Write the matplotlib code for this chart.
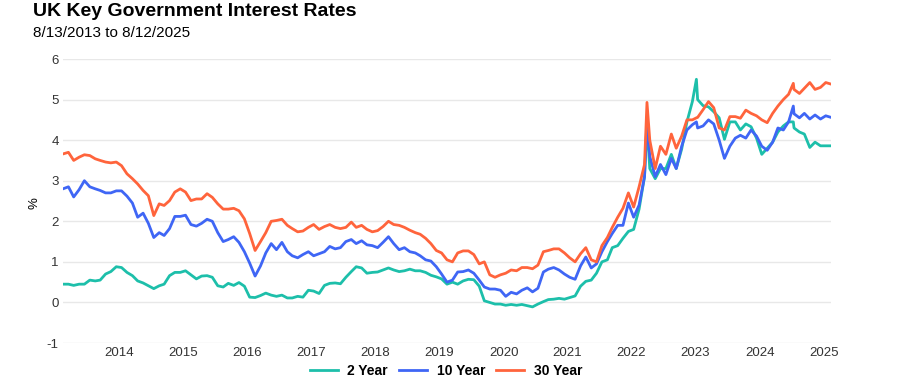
import numpy as np
import pandas as pd
import matplotlib
matplotlib.use("Agg")
import matplotlib.pyplot as plt
from matplotlib.lines import Line2D

plt.rcParams['font.family'] = ['Liberation Sans', 'DejaVu Sans']
plt.rcParams['axes.unicode_minus'] = False

# monthly readings, 13th of each month, Aug 2013 .. Aug 2025
dates = pd.date_range("2013-08-13", periods=145, freq=pd.DateOffset(months=1))

y2 = [0.45, 0.45, 0.42, 0.45, 0.45, 0.55, 0.53, 0.55, 0.70, 0.76,
      0.88, 0.86, 0.74, 0.66, 0.53, 0.48, 0.41, 0.34, 0.41, 0.45,
      0.66, 0.74, 0.74, 0.78, 0.68, 0.58, 0.65, 0.66, 0.62, 0.41,
      0.38, 0.47, 0.42, 0.49, 0.40, 0.13, 0.12, 0.17, 0.23, 0.18,
      0.15, 0.18, 0.11, 0.11, 0.15, 0.13, 0.30, 0.28, 0.22, 0.42,
      0.47, 0.48, 0.46, 0.62, 0.76, 0.88, 0.85, 0.72, 0.74, 0.75,
      0.80, 0.85, 0.80, 0.76, 0.78, 0.82, 0.78, 0.78, 0.74, 0.67,
      0.63, 0.58, 0.45, 0.50, 0.45, 0.53, 0.57, 0.56, 0.40, 0.04,
      0.00, -0.04, -0.04, -0.07, -0.05, -0.07, -0.05, -0.08, -0.11, -0.04,
      0.02, 0.07, 0.08, 0.10, 0.08, 0.12, 0.16, 0.40, 0.52, 0.55,
      0.72, 1.00, 1.05, 1.35, 1.40, 1.58, 1.75, 1.80, 2.30, 3.10,
      3.30, 3.05, 3.30, 3.30, 3.65, 3.30, 3.78, 4.45, 4.95, 5.00,
      4.85, 4.82, 4.70, 4.55, 4.02, 4.45, 4.45, 4.25, 4.40, 4.33,
      4.05, 3.65, 3.80, 3.95, 4.20, 4.35, 4.45, 4.30, 4.20, 4.15,
      3.82, 3.95, 3.86, 3.86, 3.86]

y10 = [2.80, 2.85, 2.60, 2.78, 3.00, 2.85, 2.80, 2.76, 2.70, 2.70,
       2.75, 2.75, 2.62, 2.45, 2.10, 2.20, 1.95, 1.60, 1.72, 1.65,
       1.82, 2.12, 2.12, 2.15, 1.92, 1.88, 1.95, 2.05, 2.00, 1.72,
       1.50, 1.55, 1.62, 1.48, 1.25, 0.97, 0.65, 0.90, 1.22, 1.45,
       1.30, 1.48, 1.25, 1.15, 1.10, 1.18, 1.25, 1.15, 1.20, 1.25,
       1.38, 1.32, 1.35, 1.50, 1.55, 1.45, 1.52, 1.42, 1.40, 1.35,
       1.48, 1.62, 1.45, 1.30, 1.35, 1.25, 1.22, 1.15, 1.05, 1.02,
       0.88, 0.70, 0.50, 0.55, 0.75, 0.76, 0.80, 0.72, 0.55, 0.38,
       0.33, 0.33, 0.30, 0.15, 0.25, 0.21, 0.30, 0.36, 0.26, 0.35,
       0.75, 0.82, 0.86, 0.80, 0.70, 0.62, 0.57, 0.90, 1.12, 0.85,
       0.95, 1.25, 1.50, 1.70, 1.90, 1.90, 2.45, 2.10, 2.40, 3.10,
       3.60, 3.10, 3.40, 3.15, 3.55, 3.30, 3.85, 4.25, 4.38, 4.30,
       4.35, 4.50, 4.40, 4.00, 3.55, 3.85, 4.05, 4.12, 4.05, 4.25,
       4.10, 3.85, 3.75, 3.95, 4.30, 4.25, 4.45, 4.65, 4.55, 4.66,
       4.52, 4.62, 4.52, 4.60, 4.56]

y30 = [3.66, 3.70, 3.50, 3.58, 3.64, 3.62, 3.54, 3.50, 3.46, 3.44,
       3.46, 3.37, 3.17, 3.05, 2.92, 2.76, 2.63, 2.14, 2.43, 2.39,
       2.51, 2.72, 2.80, 2.72, 2.51, 2.55, 2.55, 2.68, 2.59, 2.43,
       2.30, 2.30, 2.32, 2.26, 2.06, 1.70, 1.28, 1.50, 1.72, 2.00,
       2.02, 2.05, 1.90, 1.82, 1.74, 1.76, 1.85, 1.92, 1.80, 1.87,
       1.92, 1.85, 1.82, 1.85, 1.98, 1.85, 1.90, 1.80, 1.74, 1.77,
       1.87, 2.00, 1.92, 1.90, 1.85, 1.78, 1.72, 1.68, 1.58, 1.45,
       1.28, 1.22, 1.05, 1.00, 1.22, 1.27, 1.27, 1.18, 0.95, 1.00,
       0.68, 0.62, 0.68, 0.72, 0.80, 0.78, 0.86, 0.86, 0.83, 0.92,
       1.25, 1.28, 1.32, 1.32, 1.22, 1.10, 1.00, 1.20, 1.35, 1.05,
       1.00, 1.40, 1.60, 1.85, 2.10, 2.32, 2.70, 2.35, 2.85, 3.40,
       4.00, 3.30, 3.85, 3.65, 4.15, 3.80, 4.10, 4.50, 4.50, 4.56,
       4.75, 4.95, 4.80, 4.30, 4.25, 4.58, 4.58, 4.54, 4.74, 4.66,
       4.60, 4.50, 4.43, 4.66, 4.84, 5.00, 5.13, 5.25, 5.15, 5.28,
       5.42, 5.25, 5.30, 5.42, 5.38]

# short-lived peaks between the monthly readings
spike_dates = pd.to_datetime(["2022-09-27", "2023-07-06", "2025-01-09"])
spike_2y = [4.40, 5.50, 4.45]
spike_10y = [4.50, 4.45, 4.84]
spike_30y = [4.93, 4.55, 5.40]

df = pd.DataFrame({"date": dates, "2y": y2, "10y": y10, "30y": y30})
sp = pd.DataFrame({"date": spike_dates, "2y": spike_2y, "10y": spike_10y, "30y": spike_30y})
df = pd.concat([df, sp]).sort_values("date")

colors = {"2y": "#1DBFAA", "10y": "#3F66F5", "30y": "#FF643C"}
names = {"2y": "2 Year", "10y": "10 Year", "30y": "30 Year"}

fig = plt.figure(figsize=(9, 3.85), dpi=100)
ax = fig.add_axes([63/900, 1-343/385, (831-63)/900, (343-59)/385])

for k in ["2y", "10y", "30y"]:
    ax.plot(df["date"], df[k], color=colors[k], lw=2.0, solid_joinstyle="round")

ax.set_xlim(pd.Timestamp("2013-08-13"), pd.Timestamp("2025-08-12"))
ax.set_ylim(-1, 6)
ax.set_yticks(range(-1, 7))
years = list(range(2014, 2026))
ax.set_xticks([pd.Timestamp(f"{y}-07-01") for y in years])
ax.set_xticklabels([str(y) for y in years])
ax.grid(axis="y", color="#e8e8e8", lw=1)
ax.set_axisbelow(True)
for s in ax.spines.values():
    s.set_visible(False)
ax.tick_params(length=0, labelsize=9.5, colors="#333333", pad=3)

fig.text(33/900, 1-12/385, "UK Key Government Interest Rates", fontsize=14,
         weight="bold", va="center", ha="left")
fig.text(33/900, 1-33/385, "8/13/2013 to 8/12/2025", fontsize=11,
         va="center", ha="left")
fig.text(35/900, 1-203/385, "%", rotation=90, fontsize=9.5, va="center", ha="center")

handles = [Line2D([], [], color=colors[k], lw=2.0) for k in ["2y", "10y", "30y"]]
fig.legend(handles, [names[k] for k in ["2y", "10y", "30y"]], loc="center",
           bbox_to_anchor=(446/900, 1-371/385), ncol=3, frameon=False,
           prop={"weight": "bold", "size": 10}, handlelength=2.0,
           handletextpad=0.7, columnspacing=0.8)

fig.savefig("out.png", dpi=100)
